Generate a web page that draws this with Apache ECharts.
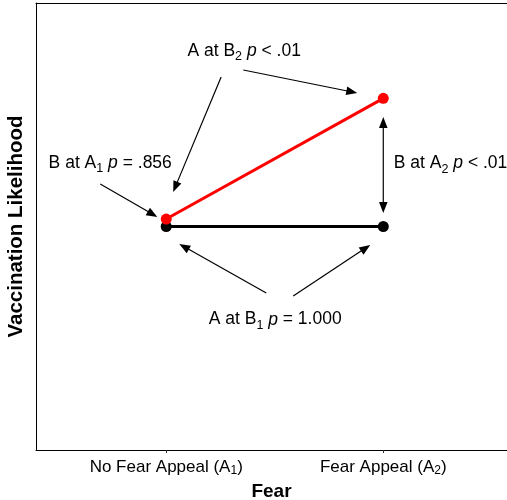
<!DOCTYPE html>
<html>
<head>
<meta charset="utf-8">
<style>
  html, body { margin: 0; padding: 0; background: #fff; }
  #chart { width: 507px; height: 500px; }
</style>
<script src="https://cdn.jsdelivr.net/npm/echarts@6/dist/echarts.min.js"></script>
</head>
<body>
<div id="chart"></div>
<script>
// Fear appeal levels (x positions) and their labels with subscripts
const fearLevels = [1, 2];
const categoryNames = ['No Fear Appeal', 'Fear Appeal'];
const categorySubs = ['1', '2'];

// Mean vaccination likelihood per condition (scale 1-7)
const b1Values = [4.0, 4.0];   // B1 line (black)
const b2Values = [4.1, 5.72];  // B2 line (red)

// Simple-effect annotations: text and anchor (data units)
const annotationTexts = [
  'A at B{s|2} {i|p} < .01',
  'B at A{s|1} {i|p} = .856',
  'B at A{s|2} {i|p} < .01',
  'A at B{s|1} {i|p} = 1.000'
];
const annotationAnchors = [
  [1.359, 6.36],
  [0.742, 4.855],
  [2.31, 4.845],
  [1.502, 2.75]
];

// Arrows: [x1, y1, x2, y2, doubleHeaded]
const arrowSegments = [
  [1.253, 6.007, 1.032, 4.463, 0],
  [1.355, 6.101, 1.880, 5.792, 0],
  [0.696, 4.570, 0.959, 4.128, 0],
  [2.000, 5.470, 2.000, 4.181, 1],
  [1.461, 3.107, 1.060, 3.765, 0],
  [1.585, 3.067, 1.940, 3.752, 0]
];

const FONT = '"Liberation Sans", Arial, Helvetica, sans-serif';

const chart = echarts.init(document.getElementById('chart'), null, { renderer: 'canvas' });

function arrowHead(tip, dir, len, halfW) {
  const bx = tip[0] - dir[0] * len, by = tip[1] - dir[1] * len;
  const nx = -dir[1], ny = dir[0];
  return [tip, [bx + nx * halfW, by + ny * halfW], [bx - nx * halfW, by - ny * halfW]];
}

function renderArrow(params, api) {
  const p1 = api.coord([api.value(0), api.value(1)]);
  const p2 = api.coord([api.value(2), api.value(3)]);
  const both = api.value(4) === 1;
  const dx = p2[0] - p1[0], dy = p2[1] - p1[1];
  const d = Math.sqrt(dx * dx + dy * dy);
  const u = [dx / d, dy / d];
  const headLen = 11, halfW = 4.3;
  const s = both ? [p1[0] + u[0] * headLen * 0.8, p1[1] + u[1] * headLen * 0.8] : p1;
  const e = [p2[0] - u[0] * headLen * 0.8, p2[1] - u[1] * headLen * 0.8];
  const children = [
    { type: 'line', shape: { x1: s[0], y1: s[1], x2: e[0], y2: e[1] },
      style: { stroke: '#000', lineWidth: 1.2 } },
    { type: 'polygon', shape: { points: arrowHead(p2, u, headLen, halfW) },
      style: { fill: '#000' } }
  ];
  if (both) {
    children.push({ type: 'polygon', shape: { points: arrowHead(p1, [-u[0], -u[1]], headLen, halfW) },
      style: { fill: '#000' } });
  }
  return { type: 'group', children: children };
}

const xAxisBase = {
  type: 'value',
  min: 0.4,
  max: 2.57,
  splitLine: { show: false }
};

chart.setOption({
  animation: false,
  backgroundColor: '#fff',
  grid: { left: 36, top: 3, right: 0, bottom: 50, outerBoundsMode: 'none', containLabel: false },
  xAxis: [
    Object.assign({}, xAxisBase, {
      position: 'bottom',
      name: 'Fear',
      nameLocation: 'middle',
      nameGap: 30,
      nameTextStyle: { fontFamily: FONT, fontSize: 19, fontWeight: 'bold', color: '#000' },
      axisLine: { show: true, lineStyle: { color: '#000', width: 1 } },
      axisTick: { show: true, length: 3, customValues: fearLevels, lineStyle: { color: '#333' } },
      axisLabel: {
        show: true,
        customValues: fearLevels,
        margin: 8,
        fontFamily: FONT,
        fontSize: 17,
        lineHeight: 19,
        color: '#000',
        formatter: function (v) {
          const i = fearLevels.indexOf(Math.round(v));
          return i < 0 ? '' : categoryNames[i] + ' (A{s|' + categorySubs[i] + '})';
        },
        rich: {
          s: { fontFamily: FONT, fontSize: 12, lineHeight: 15, verticalAlign: 'bottom', color: '#000' }
        }
      }
    }),
    Object.assign({}, xAxisBase, {
      position: 'top',
      axisLine: { show: true, lineStyle: { color: '#000', width: 1 } },
      axisTick: { show: false },
      axisLabel: { show: false }
    })
  ],
  yAxis: {
    type: 'value',
    min: 1,
    max: 7,
    name: 'Vaccination Likelihood',
    nameLocation: 'middle',
    nameGap: 9,
    nameTextStyle: { fontFamily: FONT, fontSize: 20.5, fontWeight: 'bold', color: '#000' },
    axisLine: { show: true, lineStyle: { color: '#000', width: 1 } },
    axisTick: { show: false },
    axisLabel: { show: false },
    splitLine: { show: false }
  },
  series: [
    {
      name: 'B1',
      type: 'line',
      data: fearLevels.map((x, i) => [x, b1Values[i]]),
      symbol: 'circle',
      symbolSize: 11,
      lineStyle: { color: '#000', width: 3 },
      itemStyle: { color: '#000' },
      z: 3
    },
    {
      name: 'B2',
      type: 'line',
      data: fearLevels.map((x, i) => [x, b2Values[i]]),
      symbol: 'circle',
      symbolSize: 11,
      lineStyle: { color: '#ff0000', width: 3 },
      itemStyle: { color: '#ff0000' },
      z: 4
    },
    {
      name: 'arrows',
      type: 'custom',
      renderItem: renderArrow,
      data: arrowSegments,
      encode: { x: [0, 2], y: [1, 3] },
      silent: true,
      z: 5
    },
    {
      name: 'annotations',
      type: 'scatter',
      symbolSize: 0,
      silent: true,
      itemStyle: { opacity: 1 },
      data: annotationAnchors.map((p, i) => ({ value: p, label: { formatter: annotationTexts[i] } })),
      label: {
        show: true,
        position: 'inside',
        fontFamily: FONT,
        fontSize: 17.5,
        lineHeight: 24,
        color: '#000',
        opacity: 1,
        rich: {
          s: { fontFamily: FONT, fontSize: 12.5, lineHeight: 10, verticalAlign: 'bottom', color: '#000' },
          i: { fontFamily: FONT, fontSize: 17.5, lineHeight: 24, fontStyle: 'italic', color: '#000' }
        }
      },
      z: 6
    }
  ]
});
</script>
</body>
</html>
